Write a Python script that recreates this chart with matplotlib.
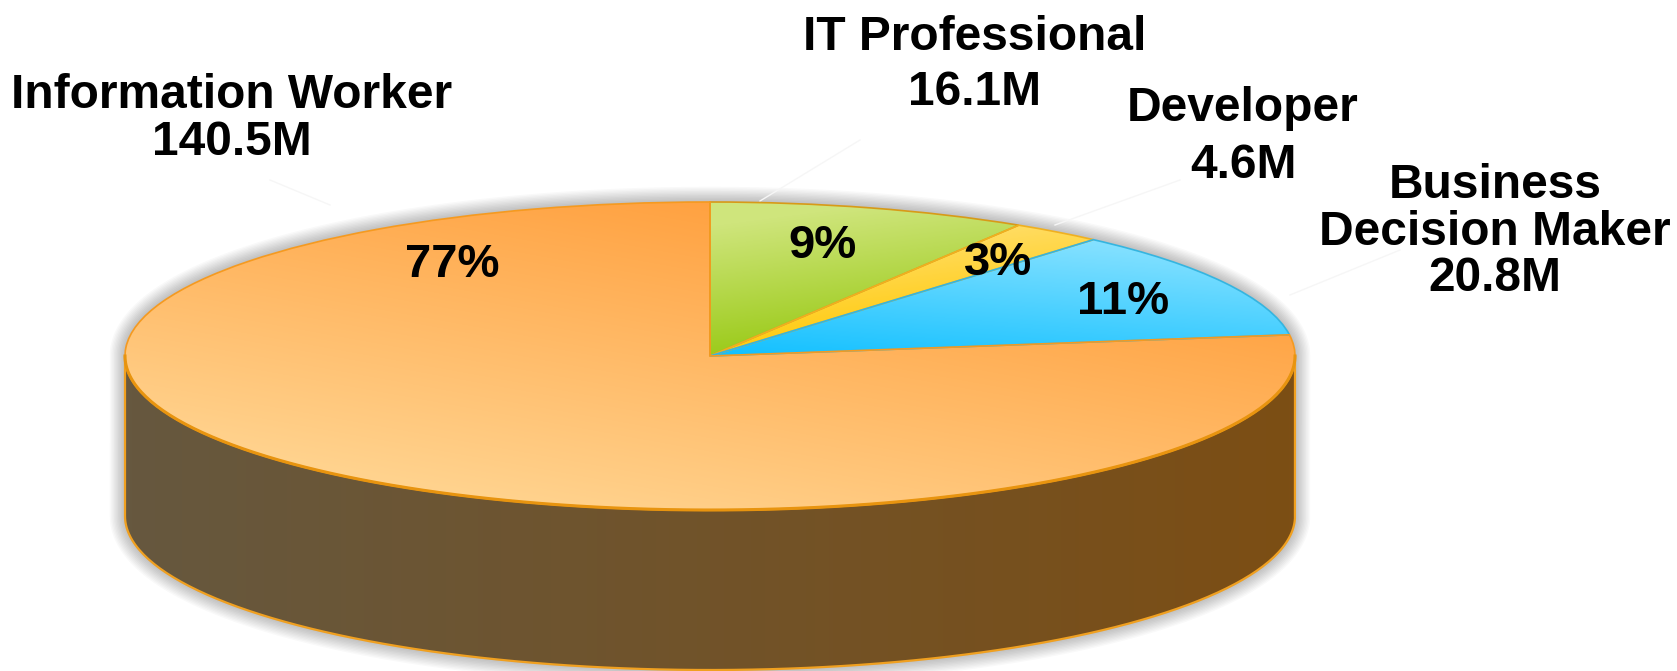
import numpy as np
import matplotlib
matplotlib.use('Agg')
import matplotlib.pyplot as plt
from matplotlib.colors import LinearSegmentedColormap
from matplotlib.patches import PathPatch
from matplotlib.path import Path

plt.rcParams['font.family'] = ['Liberation Sans', 'DejaVu Sans']

# data
categories = ['Information Worker', 'IT Professional', 'Developer', 'Business\nDecision Maker']
users_m = [140.5, 16.1, 4.6, 20.8]
percents = [77, 9, 3, 11]

# pie order, clockwise from 12 o'clock
pie_order = [1, 2, 3, 0]

# layout, all in pixels of the 1677x671 picture
W, H = 1677, 671
cx, cy, rx, ry = 710, 356, 585, 154
depth = 160
label_xy = [(232, 119), (975, 65), (1243, 137), (1495, 232)]
label_space = [1.05, 1.31, 1.33, 1.05]
pct_xy = [(452, 265), (822, 246), (998, 263), (1123, 302)]

fig = plt.figure(figsize=(W / 100, H / 100), dpi=100)
ax = fig.add_axes([0, 0, 1, 1])


def px(x, y):
    # pixel of the picture -> data coordinates of the unit pie
    return (x - cx) / rx, (cy - y) / ry


xmin, ymin = px(0, H)
xmax, ymax = px(W, 0)
d = depth / ry


def gradient_fill(patch, c0, c1, dirx, diry, vmin, vmax, zorder):
    # fills a patch with a linear gradient, c0 at vmin, c1 at vmax
    xs = np.linspace(xmin, xmax, 300)
    ys = np.linspace(ymin, ymax, 200)
    xx, yy = np.meshgrid(xs, ys)
    t = dirx * xx + diry * yy
    cmap = LinearSegmentedColormap.from_list('g', [c0, c1])
    im = ax.imshow(t, extent=(xmin, xmax, ymin, ymax), origin='lower', cmap=cmap, vmin=vmin, vmax=vmax,
                   aspect='auto', zorder=zorder, interpolation='bilinear')
    im.set_clip_path(patch)
    return im


# the pie itself gives the wedges
values = [users_m[i] for i in pie_order]
wedges, _ = ax.pie(values, startangle=90, counterclock=False, radius=1, center=(0, 0),
                   wedgeprops=dict(linewidth=1.2, zorder=5))
ax.set_aspect('auto')
ax.set_xlim(xmin, xmax)
ax.set_ylim(ymin, ymax)
ax.axis('off')

edge_cols = ['#D89A18', '#F0B020', '#35B5E0', '#F59A20']
grad_cols = [('#96C810', '#CFE57C', -0.5, 1.0, -0.1, 0.85),
             ('#FFC800', '#FFE488', -0.5, 1.0, -0.1, 0.85),
             ('#12C0FF', '#8CE3FF', 0.3, 1.0, 0.0, 1.0),
             ('#FFD490', '#FF9C38', 0.55, 0.8, -1, 1)]
for w, e, g in zip(wedges, edge_cols, grad_cols):
    w.set_facecolor('none')
    w.set_edgecolor(e)
    w.set_zorder(5)
    gradient_fill(w, g[0], g[1], g[2], g[3], g[4], g[5], 4)

# side wall below the front half of the ellipse
a = np.linspace(np.pi, 2 * np.pi, 200)
top_x, top_y = np.cos(a), np.sin(a)
wall_xy = np.vstack([np.column_stack([top_x, top_y]), np.column_stack([top_x[::-1], top_y[::-1] - d])])
wall = PathPatch(Path(np.vstack([wall_xy, wall_xy[0]])), facecolor='none', edgecolor='#F0A020', lw=1.6, zorder=3)
ax.add_patch(wall)
gradient_fill(wall, '#66583F', '#7C4E14', 1.0, 0.0, -1, 1, 2)

# darker seam between top face and wall
ax.plot(top_x, top_y, color='#E8940F', lw=2.2, zorder=6)

# soft shadow round the whole body
b = np.linspace(0, 2 * np.pi, 400, endpoint=False)
body_x = np.cos(b)
body_y = np.where(np.sin(b) < 0, np.sin(b) - d, np.sin(b))
outline = Path(np.column_stack([np.append(body_x, body_x[0]), np.append(body_y, body_y[0])]), closed=True)
for lw in range(2, 24, 2):
    ax.add_patch(PathPatch(outline, facecolor='none', edgecolor='black', lw=lw, alpha=0.022, zorder=1))

# faint leader lines
leaders = [((330, 205), (270, 180)), ((760, 201), (860, 140)), ((1055, 225), (1180, 180)), ((1290, 295), (1400, 250))]
for p0, p1 in leaders:
    x0, y0 = px(*p0)
    x1, y1 = px(*p1)
    ax.plot([x0, x1], [y0, y1], color='#F6F6F6', lw=1, zorder=1.5)

# labels
for cat, val, xy, sp in zip(categories, users_m, label_xy, label_space):
    x, y = px(*xy)
    ax.text(x, y, f'{cat}\n{val}M', ha='center', va='center', fontsize=34.5, fontweight='bold',
            color='black', linespacing=sp, zorder=8)

for pct, xy in zip(percents, pct_xy):
    x, y = px(*xy)
    ax.text(x, y, f'{pct}%', ha='center', va='center', fontsize=34, fontweight='bold', color='black', zorder=8)

fig.savefig('out.png', dpi=100, facecolor='white')
